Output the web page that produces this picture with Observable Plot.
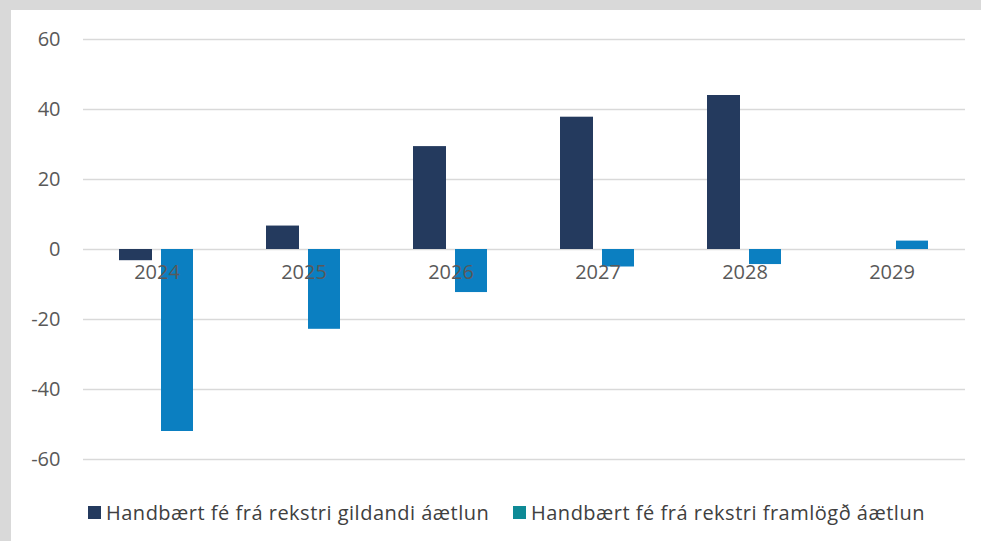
<!DOCTYPE html>
<html>
<head>
<meta charset="utf-8">
<script src="https://cdn.jsdelivr.net/npm/d3@7"></script>
<script src="https://cdn.jsdelivr.net/npm/@observablehq/plot@0.6"></script>
<style>
  html, body { margin: 0; padding: 0; background: #fff; }
  #frame {
    position: relative; width: 981px; height: 541px; box-sizing: border-box;
    border-top: 10px solid #d9d9d9; border-left: 11px solid #d9d9d9; background: #fff;
    font-family: "Open Sans", sans-serif; overflow: hidden;
  }
  #chart svg { display: block; }
  .leg { position: absolute; top: 490px; height: 24px; display: flex; align-items: center;
         font-size: 20px; letter-spacing: 0.5px; color: #404040; white-space: nowrap; }
  .sw { width: 13px; height: 13px; margin-right: 5px; }
</style>
</head>
<body>
<div id="frame">
  <div id="chart"></div>
  <div class="leg" style="left:77px"><span class="sw" id="sw1"></span><span id="l1"></span></div>
  <div class="leg" style="left:502px"><span class="sw" id="sw2"></span><span id="l2"></span></div>
</div>
<script>
const years = ["2024", "2025", "2026", "2027", "2028", "2029"];
const gildandi = [-3.2, 6.7, 29.4, 37.8, 44.0, null];
const framlogd = [-52.0, -22.8, -12.3, -5.0, -4.3, 2.4];
const seriesNames = ["Handbært fé frá rekstri gildandi áætlun", "Handbært fé frá rekstri framlögð áætlun"];
const yTicks = [-60, -40, -20, 0, 20, 40, 60];
const colors = ["#243a5e", "#0b7fc1"];
const legendColors = ["#243a5e", "#0e8a96"];

const rows1 = years.map((y, i) => ({year: y, value: gildandi[i]})).filter(d => d.value != null);
const rows2 = years.map((y, i) => ({year: y, value: framlogd[i]})).filter(d => d.value != null);

const chart = Plot.plot({
  width: 970,
  height: 480,
  marginLeft: 72,
  marginRight: 16,
  marginTop: 29,
  marginBottom: 31,
  style: {fontFamily: "Open Sans, sans-serif", fontSize: "20px", color: "#595959", background: "#fff"},
  x: {domain: years, padding: 0, axis: null},
  y: {domain: [-60, 60], ticks: yTicks, tickSize: 0, tickPadding: 23, label: null, tickFormat: d => String(d)},
  marks: [
    Plot.ruleY(yTicks, {stroke: "#d9d9d9", strokeWidth: 1.5}),
    Plot.barY(rows1, {x: "year", y: "value", fill: colors[0], insetLeft: 36, insetRight: 78}),
    Plot.barY(rows2, {x: "year", y: "value", fill: colors[1], insetLeft: 78, insetRight: 37}),
    Plot.text(years, {x: d => d, y: () => 0, dy: 23, text: d => d, fill: "#595959", fontSize: 20})
  ]
});
document.getElementById("chart").appendChild(chart);
document.getElementById("sw1").style.background = legendColors[0];
document.getElementById("sw2").style.background = legendColors[1];
document.getElementById("l1").textContent = seriesNames[0];
document.getElementById("l2").textContent = seriesNames[1];
</script>
</body>
</html>
